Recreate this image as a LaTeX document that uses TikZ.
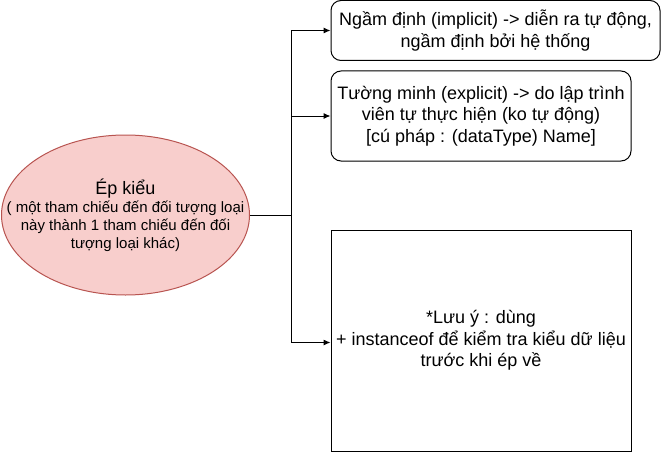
\documentclass[tikz,border=0pt]{standalone}
\usepackage{fontspec}
\setmainfont{Liberation Sans}
\usetikzlibrary{arrows.meta,shapes.geometric}
\definecolor{pinkfill}{HTML}{F8CECC}
\definecolor{pinkline}{HTML}{B85450}
\begin{document}
\begin{tikzpicture}[x=1pt,y=-1pt,
  box/.style={draw=black,fill=white,line width=1pt,align=center,inner sep=0pt},
  conn/.style={draw=black,line width=1pt,-{Latex[length=7pt,width=6pt]}},
  txt/.style={font=\fontsize{18}{21.5}\selectfont}]
\useasboundingbox (0,0) rectangle (661,452);
% ellipse
\node[ellipse,draw=pinkline,fill=pinkfill,line width=1pt,minimum width=248pt,minimum height=160pt,inner sep=0pt] (e) at (125.5,215) {};
\node[align=center,font=\fontsize{15}{18}\selectfont,inner sep=0pt] (et) at (125.5,215) {{\fontsize{18}{21}\selectfont Ép kiểu}\\( một tham chiếu đến đối tượng loại\\này thành 1 tham chiếu đến đối\\tượng loại khác)};
% boxes
\node[box,rounded corners=10pt,minimum width=329pt,minimum height=60pt,txt] (b1) at (495.5,30.5) {Ngầm định (implicit) -> diễn ra tự động,\\ngầm định bởi hệ thống};
\node[box,rounded corners=10pt,minimum width=300pt,minimum height=90pt,txt] (b2) at (481,116) {Tường minh (explicit) -> do lập trình\\viên tự thực hiện (ko tự động)\\{[}cú pháp : (dataType) Name{]}};
\node[box,minimum width=300pt,minimum height=221pt,txt] (b3) at (481,340.5) {*Lưu ý : dùng\\+ instanceof để kiểm tra kiểu dữ liệu\\trước khi ép về};
% connectors
\coordinate (j) at (291,215);
\draw[line width=1pt] (e.east) -- (j);
\draw[conn] (j) |- (b1.west);
\draw[conn] (j) |- (b2.west);
\draw[conn] (j) |- ([yshift=-2pt]b3.west);
\end{tikzpicture}
\end{document}
